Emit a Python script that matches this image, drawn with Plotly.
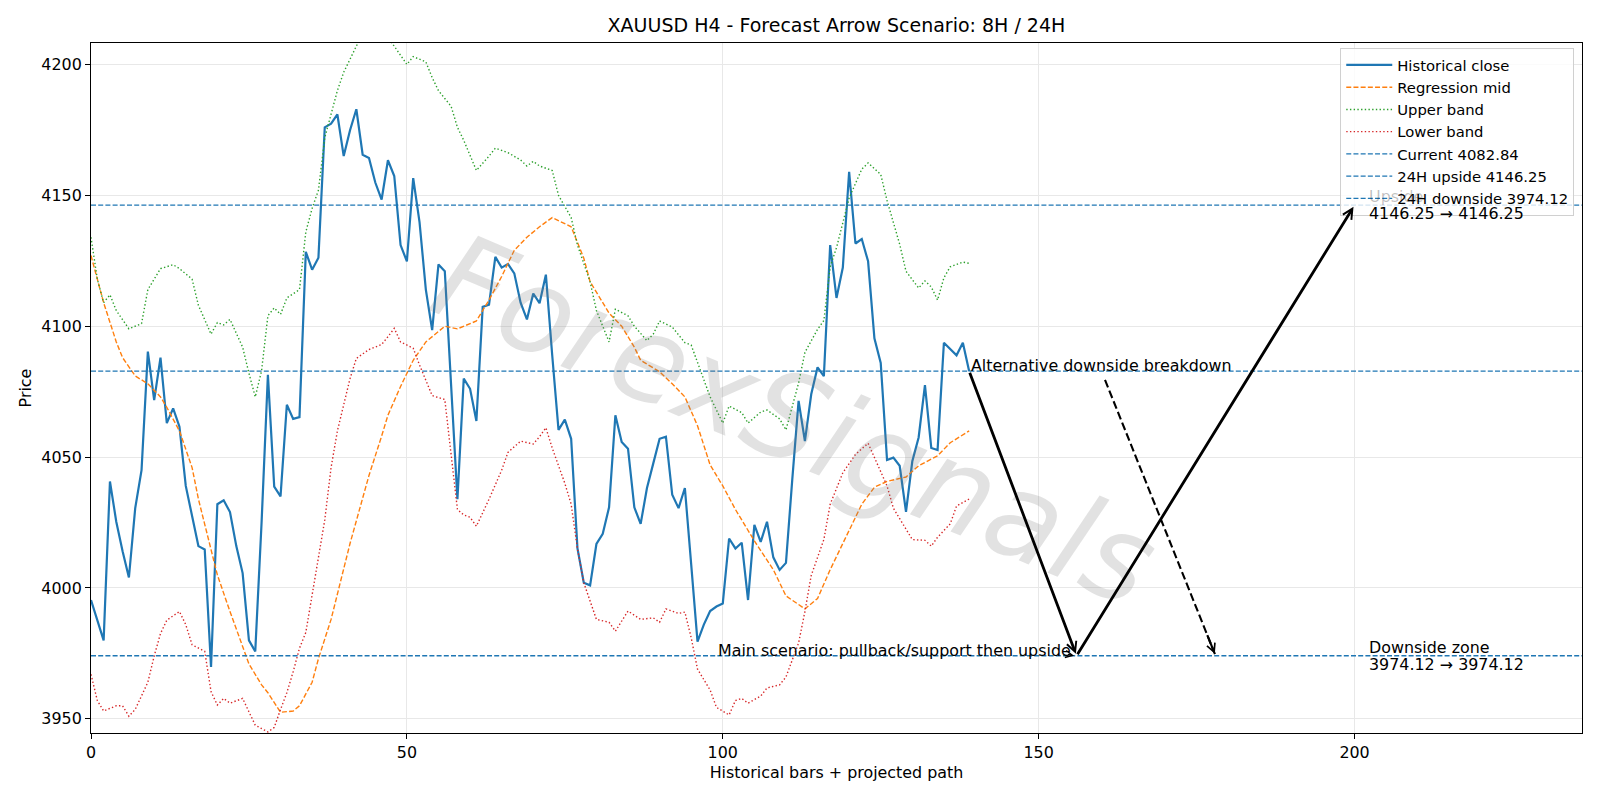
import plotly.graph_objects as go

# ---------------- data ----------------
bars = list(range(140))
close = [
    3995.4, 3987.5, 3980.0, 4040.7, 4025.3, 4014.0, 4004.0, 4030.5, 4045.0, 4090.3,
    4071.8, 4088.0, 4063.0, 4068.6, 4061.6, 4039.0, 4027.0, 4016.0, 4014.7, 3969.8,
    4032.0, 4033.5, 4029.0, 4016.0, 4005.7, 3980.0, 3975.8, 4025.0, 4081.4, 4038.7,
    4035.0, 4070.0, 4064.6, 4065.3, 4128.4, 4121.6, 4126.2, 4176.0, 4177.4, 4180.9,
    4165.0, 4174.9, 4182.9, 4165.5, 4164.3, 4154.9, 4148.4, 4163.4, 4157.4, 4131.0,
    4124.8, 4156.6, 4139.8, 4114.0, 4098.5, 4123.6, 4121.0, 4075.0, 4033.9, 4080.0,
    4076.1, 4063.8, 4107.4, 4108.2, 4126.5, 4122.4, 4123.8, 4120.2, 4109.0, 4102.6,
    4112.5, 4108.8, 4119.7, 4089.0, 4060.4, 4064.3, 4057.0, 4015.1, 4002.0, 4001.0,
    4016.8, 4020.7, 4030.8, 4066.0, 4055.8, 4053.2, 4030.8, 4024.5, 4038.2, 4047.6,
    4057.0, 4057.8, 4035.6, 4030.5, 4038.2, 4009.0, 3979.5, 3986.0, 3991.2, 3992.9,
    3994.1, 4018.9, 4015.1, 4017.3, 3995.4, 4024.1, 4017.6, 4025.3, 4011.7, 4006.9,
    4009.6, 4041.5, 4071.5, 4056.1, 4074.0, 4084.3, 4080.9, 4131.0, 4110.8, 4122.4,
    4159.0, 4131.6, 4133.3, 4124.8, 4095.4, 4086.0, 4048.9, 4049.8, 4046.7, 4029.1,
    4048.4, 4057.5, 4077.5, 4053.5, 4052.7, 4093.7, 4091.1, 4088.9, 4093.7, 4082.84,
]

mid_x = [0, 2, 4, 5, 7, 9, 11, 12, 14, 16, 17, 19, 20, 22, 24, 25, 27, 28, 30, 32,
         33, 35, 36, 38, 41, 44, 46, 47, 49, 51, 53, 56, 58, 61, 63, 65, 67, 69, 71, 73,
         76, 78, 79, 82, 84, 86, 87, 90, 92, 94, 96, 98, 100, 102, 105, 108, 110, 113, 115, 117,
         120, 122, 124, 126, 129, 131, 134, 136, 139]
mid_y = [4127, 4109, 4094, 4088, 4081, 4078, 4073, 4069, 4060, 4046, 4034, 4015, 4005, 3991, 3978,
         3971, 3963, 3960, 3952.5, 3953, 3955, 3964, 3973, 3988, 4017, 4043, 4058, 4066, 4077, 4087,
         4094, 4100, 4099, 4102, 4110, 4119, 4129, 4134, 4138, 4141.5, 4138, 4126, 4117, 4105, 4100,
         4092, 4087, 4082.6, 4078, 4073, 4062, 4047, 4039, 4030, 4018, 4007, 3997, 3992, 3996, 4007,
         4022, 4032, 4038.5, 4040.7, 4042.4, 4046.7, 4050.5, 4055.5, 4060]

upper_x = [0, 1, 2, 3, 4, 6, 8, 9, 11, 13, 14, 16, 17, 19, 20, 21, 22, 24, 25, 26,
           27, 28, 29, 30, 31, 33, 34, 35, 36, 37, 39, 40, 42, 43, 45, 47, 48, 50, 51, 53,
           54, 55, 57, 58, 59, 61, 63, 64, 66, 68, 69, 70, 71, 73, 74, 76, 77, 79, 80, 82,
           83, 85, 86, 88, 89, 90, 92, 94, 95, 97, 98, 100, 101, 103, 104, 106, 107, 109, 110, 112,
           113, 115, 116, 117, 118, 120, 122, 123, 125, 126, 128, 129, 131, 132, 133, 134, 135, 136, 138, 139]
upper_y = [4134, 4118, 4109, 4112, 4106, 4099, 4101, 4114, 4122, 4123.5, 4122, 4118, 4108, 4097, 4101.4,
           4100.5, 4102.6, 4092, 4082, 4073, 4083, 4104, 4107, 4104.5, 4110.8, 4114, 4136, 4145, 4152, 4172,
           4190, 4197, 4207, 4212, 4215, 4210, 4207, 4200, 4203, 4201, 4195, 4190, 4184, 4176, 4171,
           4159.5, 4165, 4168, 4166.3, 4163.5, 4161.2, 4163, 4161.2, 4159.5, 4150, 4141.5, 4131, 4117, 4106, 4094,
           4106.5, 4104, 4100, 4094.5, 4097, 4102, 4099.7, 4093.7, 4092.8, 4080, 4073, 4063, 4069.5, 4067, 4063,
           4067.2, 4068, 4064.6, 4060.4, 4078.3, 4090, 4098.8, 4102.2, 4122.7, 4130, 4149, 4160, 4162.4, 4158, 4148,
           4131.3, 4121, 4114.6, 4117.3, 4115, 4110, 4118.5, 4122.7, 4124.5, 4124]

lower_x = [0, 1, 2, 4, 5, 6, 7, 9, 10, 11, 12, 14, 15, 16, 18, 19, 20, 21, 22, 24,
           25, 26, 28, 29, 30, 31, 32, 33, 34, 35, 36, 37, 38, 39, 41, 42, 44, 46, 47, 48,
           49, 51, 52, 54, 56, 57, 58, 59, 60, 61, 63, 65, 66, 68, 70, 71, 72, 73, 75, 76,
           77, 78, 80, 82, 83, 85, 87, 89, 90, 91, 93, 94, 95, 96, 98, 99, 101, 102, 103, 104,
           106, 107, 109, 110, 112, 113, 114, 116, 117, 119, 121, 123, 124, 126, 127, 129, 130, 132, 133, 134,
           136, 137, 139]
lower_y = [3967, 3957, 3953, 3955, 3955, 3951, 3953.6, 3964, 3974, 3982.6, 3987.7, 3991, 3986, 3978.3, 3975.8,
           3960.4, 3955.3, 3957.8, 3956, 3957.8, 3952.7, 3947.6, 3945, 3946.7, 3953.6, 3960, 3968, 3977, 3983, 3997,
           4012, 4026, 4046, 4060, 4080, 4087.7, 4091.1, 4093, 4096, 4099.2, 4094, 4091.6, 4085.2, 4073.5, 4072,
           4050, 4030, 4027.9, 4027, 4023.6, 4033.9, 4045, 4051.8, 4056.1, 4055, 4057.8, 4061.2, 4053.5, 4040, 4032,
           4015, 4002, 3988, 3986.9, 3983.5, 3991.2, 3988, 3988.6, 3986.9, 3992, 3990.3, 3990.8, 3981, 3969, 3961,
           3954.4, 3951.5, 3957, 3957.8, 3956, 3958.7, 3961.8, 3963, 3966, 3979, 3991, 4004.8, 4018.5, 4032, 4044,
           4051, 4055.3, 4050, 4039, 4030.5, 4022.8, 4018.5, 4018.2, 4016, 4019.4, 4024.5, 4031.3, 4034]

current = 4082.84
up_target = 4146.25
down_target = 3974.12

# projected scenario path (bar index, price)
main_path_x = [139, 156, 200]
main_path_y = [current, down_target, up_target]
alt_path_x = [160.5, 178]
alt_path_y = [4079.5, down_target]
main_text_x = 99
label_x = 202

x_range = [0, 236]
y_range = [3944.6, 4208.2]

watermark = "ForexSignals"

# ---------------- styling ----------------
BLUE = "#1f77b4"
ORANGE = "#ff7f0e"
GREEN = "#2ca02c"
RED = "#d62728"
FONT = "DejaVu Sans"
FS = 15.9

fig = go.Figure()
fig.add_trace(go.Scatter(x=bars, y=close, mode="lines", name="Historical close",
                         line=dict(color=BLUE, width=2.2)))
fig.add_trace(go.Scatter(x=mid_x, y=mid_y, mode="lines", name="Regression mid",
                         line=dict(color=ORANGE, width=1.4, dash="5px,2.2px")))
fig.add_trace(go.Scatter(x=upper_x, y=upper_y, mode="lines", name="Upper band",
                         line=dict(color=GREEN, width=1.4, dash="1.4px,2.3px")))
fig.add_trace(go.Scatter(x=lower_x, y=lower_y, mode="lines", name="Lower band",
                         line=dict(color=RED, width=1.4, dash="1.4px,2.3px")))

for val, nm in [(current, f"Current {current:.2f}"),
                (up_target, f"24H upside {up_target:.2f}"),
                (down_target, f"24H downside {down_target:.2f}")]:
    fig.add_trace(go.Scatter(x=x_range, y=[val, val], mode="lines", name=nm,
                             line=dict(color=BLUE, width=1.4, dash="5px,2.2px")))

# dashed alternative path line
fig.add_trace(go.Scatter(x=alt_path_x, y=alt_path_y, mode="lines", showlegend=False,
                         hoverinfo="skip", line=dict(color="black", width=2.1, dash="8px,3.5px")))

annotations = []
# watermark
annotations.append(dict(
    x=111.5, y=4064, xref="x", yref="y", text="<i>" + watermark + "</i>", showarrow=False,
    textangle=23, font=dict(family=FONT, size=120, color="rgba(125,125,125,0.22)")))

# main scenario arrows
for i in range(len(main_path_x) - 1):
    annotations.append(dict(x=main_path_x[i + 1], y=main_path_y[i + 1],
                            ax=main_path_x[i], ay=main_path_y[i],
                            xref="x", yref="y", axref="x", ayref="y",
                            text="", showarrow=True, arrowhead=5, arrowsize=0.7,
                            arrowwidth=2.8, arrowcolor="black", standoff=2, startstandoff=0))
# alternative arrow head
fx = alt_path_x[1] - (alt_path_x[1] - alt_path_x[0]) * 0.08
fy = alt_path_y[1] - (alt_path_y[1] - alt_path_y[0]) * 0.08
annotations.append(dict(x=alt_path_x[1], y=alt_path_y[1], ax=fx, ay=fy,
                        xref="x", yref="y", axref="x", ayref="y", text="", showarrow=True,
                        arrowhead=5, arrowsize=0.8, arrowwidth=2.1, arrowcolor="black", standoff=2))
# small arrow head after main text
annotations.append(dict(x=main_path_x[1] - 0.4, y=down_target, ax=main_path_x[1] - 1.6, ay=down_target + 0.6,
                        xref="x", yref="y", axref="x", ayref="y", text="", showarrow=True,
                        arrowhead=5, arrowsize=1.0, arrowwidth=1.4, arrowcolor="black"))

txtfont = dict(family=FONT, size=FS, color="black")
LS = 8.3  # half line spacing for two-line labels
annotations += [
    dict(x=main_path_x[0], y=current, xref="x", yref="y", text="Alternative downside breakdown",
         showarrow=False, xanchor="left", yanchor="bottom", yshift=-6, font=txtfont),
    dict(x=main_text_x, y=down_target, xref="x", yref="y", text="Main scenario: pullback/support then upside",
         showarrow=False, xanchor="left", yanchor="bottom", yshift=-6, font=txtfont),
    dict(x=label_x, y=up_target, xref="x", yref="y", text="Upside",
         showarrow=False, xanchor="left", yanchor="middle", yshift=LS,
         font=dict(family=FONT, size=FS, color="rgba(0,0,0,0.25)")),
    dict(x=label_x, y=up_target, xref="x", yref="y", text=f"{up_target:.2f} → {up_target:.2f}",
         showarrow=False, xanchor="left", yanchor="middle", yshift=-LS, font=txtfont),
    dict(x=label_x, y=down_target, xref="x", yref="y", text="Downside zone",
         showarrow=False, xanchor="left", yanchor="middle", yshift=LS, font=txtfont),
    dict(x=label_x, y=down_target, xref="x", yref="y", text=f"{down_target:.2f} → {down_target:.2f}",
         showarrow=False, xanchor="left", yanchor="middle", yshift=-LS, font=txtfont),
]

axis_common = dict(showline=True, linecolor="black", linewidth=1.1, mirror=True,
                   ticks="outside", ticklen=5, tickwidth=1.1, tickcolor="black",
                   showgrid=True, gridcolor="#e8e8e8", gridwidth=1, zeroline=False,
                   tickfont=dict(family=FONT, size=FS, color="black"))

fig.update_layout(
    width=1600, height=800,
    margin=dict(l=91, r=18, t=43, b=67),
    paper_bgcolor="white", plot_bgcolor="white",
    font=dict(family=FONT, size=FS, color="black"),
    title=dict(text="XAUUSD H4 - Forecast Arrow Scenario: 8H / 24H", x=0.5228, xanchor="center",
               y=1 - 25 / 800, yanchor="middle", font=dict(family=FONT, size=19, color="black")),
    xaxis=dict(range=x_range, tickvals=[0, 50, 100, 150, 200],
               title=dict(text="Historical bars + projected path", standoff=5,
                          font=dict(family=FONT, size=FS, color="black")), **axis_common),
    yaxis=dict(range=y_range, tickvals=[3950, 4000, 4050, 4100, 4150, 4200],
               title=dict(text="Price", standoff=5, font=dict(family=FONT, size=FS, color="black")),
               **axis_common),
    legend=dict(x=0.9948, xanchor="right", y=0.993, yanchor="top", itemwidth=46,
                bgcolor="rgba(255,255,255,0.8)", bordercolor="#d0d0d0", borderwidth=1,
                font=dict(family=FONT, size=14.8, color="black"), tracegroupgap=0),
    annotations=annotations,
    showlegend=True,
)

fig.write_html("out.html")
